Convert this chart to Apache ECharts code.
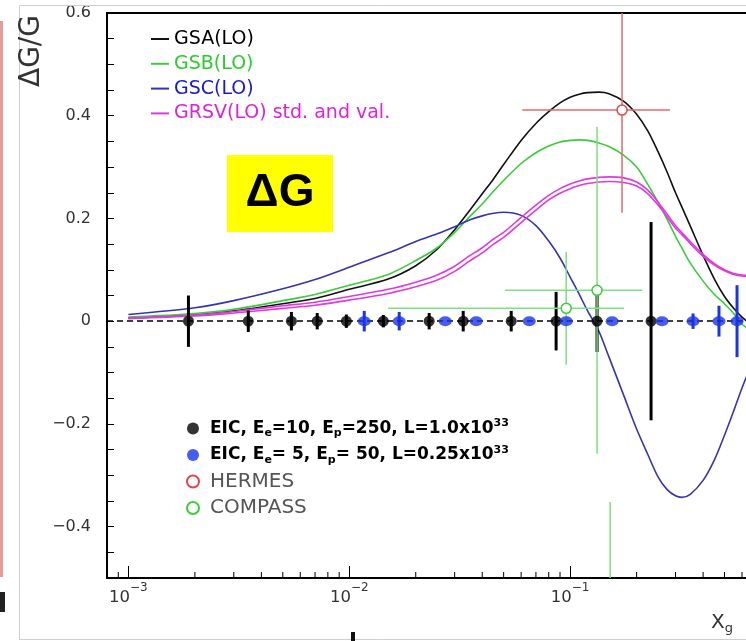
<!DOCTYPE html>
<html><head><meta charset="utf-8">
<script src="https://cdn.jsdelivr.net/npm/echarts@6/dist/echarts.min.js"></script>
<style>html,body{margin:0;padding:0;background:#fff}#c{width:746px;height:641px}</style>
</head><body><div id="c"></div>
<script>
// ---------- data ----------
const curveX  = [0.001,0.002,0.003,0.005,0.007,0.01,0.015,0.02,0.025,0.03,0.035,0.04,0.045,0.05,0.06,0.07,0.08,0.09,0.1,0.11,0.12,0.135,0.15,0.175,0.2,0.225,0.25,0.275,0.3,0.32,0.35,0.4,0.45,0.5,0.55,0.6,0.7,0.8];
const gsa     = [0.006,0.012,0.02,0.034,0.044,0.062,0.082,0.108,0.14,0.178,0.215,0.248,0.277,0.305,0.352,0.385,0.408,0.425,0.436,0.442,0.445,0.446,0.443,0.428,0.403,0.37,0.33,0.29,0.25,0.223,0.185,0.128,0.082,0.048,0.025,0.008,-0.015,-0.03];
const gsb     = [0.008,0.015,0.023,0.04,0.052,0.07,0.091,0.118,0.143,0.173,0.203,0.228,0.253,0.274,0.307,0.328,0.341,0.349,0.352,0.353,0.352,0.347,0.34,0.323,0.3,0.266,0.232,0.198,0.165,0.143,0.113,0.078,0.052,0.034,0.015,-0.006,-0.025,-0.04];
const gsc     = [0.013,0.026,0.04,0.063,0.081,0.105,0.133,0.155,0.17,0.184,0.197,0.205,0.21,0.212,0.206,0.186,0.156,0.123,0.086,0.052,0.02,-0.02,-0.07,-0.145,-0.21,-0.26,-0.303,-0.328,-0.34,-0.343,-0.337,-0.31,-0.27,-0.222,-0.175,-0.13,-0.06,-0.01];
const grsvStd = [0.006,0.012,0.019,0.03,0.037,0.048,0.062,0.076,0.09,0.107,0.127,0.143,0.16,0.173,0.202,0.226,0.245,0.258,0.267,0.273,0.277,0.28,0.281,0.279,0.271,0.255,0.232,0.208,0.186,0.173,0.155,0.13,0.112,0.1,0.093,0.09,0.087,0.085];
const grsvVal = [0.005,0.01,0.016,0.025,0.031,0.041,0.054,0.067,0.08,0.097,0.117,0.133,0.15,0.163,0.192,0.216,0.236,0.249,0.258,0.264,0.268,0.271,0.272,0.27,0.263,0.248,0.226,0.203,0.181,0.169,0.151,0.126,0.109,0.098,0.091,0.088,0.085,0.083];

const eic1X   = [0.00187,0.00349,0.00547,0.00716,0.0097,0.01426,0.0230,0.0328,0.0541,0.0864,0.1324,0.2325];
const eic1Y   = [0,0,0,0,0,0,0,0,0,0,0,0];
const eic1Err = [0.05,0.021,0.018,0.016,0.013,0.012,0.016,0.02,0.02,0.057,0.06,0.193];

const eic2X   = [0.01169,0.01683,0.0272,0.03756,0.0653,0.0960,0.1549,0.2606,0.3602,0.472,0.5697];
const eic2Y   = [0,0,0,0,0,0,0,0,0,0,0];
const eic2Err = [0.02,0.018,0,0,0,0,0,0,0.015,0.03,0.07];

const hermesX = [0.1718], hermesY = [0.411], hermesXLo = [0.0607], hermesXHi = [0.2835], hermesErr = [0.2];
const compassX   = [0.096, 0.1324, 0.1518];
const compassY   = [0.025, 0.06, -0.8];
const compassXLo = [0.015, 0.0508, 0.1518];
const compassXHi = [0.1754, 0.212, 0.1518];
const compassErr = [0.11, 0.318, 0.448];

const yTickLabels = [-0.4,-0.2,0,0.2,0.4,0.6];
const xMin = 0.0008, xMax = 1, yMin = -0.5, yMax = 0.6;

const NAME_A = 'GSA(LO)', NAME_B = 'GSB(LO)', NAME_C = 'GSC(LO)', NAME_R = 'GRSV(LO) std. and val.';
const NAME_E1 = 'EIC, E_e=10, E_p=250, L=1.0x10^33';
const NAME_E2 = 'EIC, E_e= 5, E_p= 50, L=0.25x10^33';
const NAME_H = 'HERMES', NAME_CO = 'COMPASS';

// ---------- helpers ----------
const minorTicks = [];
[0.0001,0.001,0.01,0.1].forEach(d => { for (let m=2;m<=9;m++){ const v=d*m; if (v>xMin && v<xMax) minorTicks.push(v);} });

function curve(name, ys, color){
  return {type:'line', name, data: curveX.map((x,i)=>[x, ys[i]]), smooth:0.3, symbol:'none',
    lineStyle:{color, width:1.6}, itemStyle:{color}, clip:true, z:2, silent:true};
}
function vbars(xs, ys, errs, color, w){
  return {type:'custom', name:'_bars'+color, silent:true, clip:true, z:3,
    data: xs.map((x,i)=>[x, ys[i], errs[i]]),
    renderItem:(p, api)=>{
      const x=api.value(0), y=api.value(1), e=api.value(2);
      if (!e) return null;
      const t=api.coord([x,y+e]), b=api.coord([x,y-e]);
      return {type:'line', shape:{x1:t[0],y1:t[1],x2:b[0],y2:b[1]}, style:{stroke:color, lineWidth:w}};
    }};
}
function cross(name, xs, ys, xl, xh, errs, lineColor, markColor){
  return {type:'custom', name, clip:true, z:4, silent:true, itemStyle:{color:markColor},
    data: xs.map((x,i)=>[x, ys[i], xl[i], xh[i], errs[i]]),
    renderItem:(p, api)=>{
      const x=api.value(0), y=api.value(1), e=api.value(4);
      const c=api.coord([x,y]), l=api.coord([api.value(2),y]), r=api.coord([api.value(3),y]);
      const t=api.coord([x,y+e]), b=api.coord([x,y-e]);
      return {type:'group', children:[
        {type:'line', shape:{x1:l[0],y1:l[1],x2:r[0],y2:r[1]}, style:{stroke:lineColor, lineWidth:1.5}},
        {type:'line', shape:{x1:t[0],y1:t[1],x2:b[0],y2:b[1]}, style:{stroke:lineColor, lineWidth:1.5}},
        {type:'circle', shape:{cx:c[0],cy:c[1],r:5}, style:{fill:'#fff', stroke:markColor, lineWidth:1.5}}
      ]};
    }};
}
const richFmt = n => n.replace(/_(\w)/g,'{sub|$1}').replace(/\^(\d+)/g,'{sup|$1}');
const FONT = 'DejaVu Sans';

const chart = echarts.init(document.getElementById('c'), null, {renderer:'canvas'});
chart.setOption({
  animation:false,
  backgroundColor:'#fff',
  grid:{left:107, top:13, width:684, height:565, show:true, borderColor:'#000', borderWidth:2, outerBoundsMode:'none'},
  xAxis:{type:'log', logBase:10, min:xMin, max:xMax,
    axisLine:{show:true, onZero:false, lineStyle:{color:'#000', width:2}},
    axisTick:{show:true, inside:true, length:12, lineStyle:{color:'#000', width:1}},
    splitLine:{show:false},
    axisLabel:{margin:4, color:'#333', fontFamily:FONT,
      formatter: v => { const l=Math.log10(v), e=Math.round(l); if (Math.abs(l-e)>1e-6 || e>=0) return ''; return '{b|10}{s|\u2212'+(-e)+'}'; },
      rich:{ b:{fontSize:16.5, lineHeight:32, fontFamily:FONT, color:'#333'}, s:{fontSize:12, lineHeight:12, verticalAlign:'top', fontFamily:FONT, color:'#333'} } }
  },
  yAxis:{type:'value', min:yMin, max:yMax, interval:0.05,
    axisLine:{show:true, onZero:false, lineStyle:{color:'#000', width:2}},
    axisTick:{show:true, inside:true, length:7, lineStyle:{color:'#000', width:1}},
    splitLine:{show:false},
    axisLabel:{margin:16, color:'#333', fontFamily:FONT, fontSize:16,
      formatter: v => { const hit = yTickLabels.find(t=>Math.abs(t-v)<1e-6); if (hit===undefined) return ''; if (hit===0) return '0'; return (hit<0?'\u2212':'')+Math.abs(hit).toFixed(1); } }
  },
  legend:[
    {orient:'vertical', left:146, top:24, itemWidth:18, itemHeight:2, itemGap:4.8, selectedMode:false, icon:'rect',
      textStyle:{fontFamily:FONT, fontSize:19, lineHeight:20},
      data:[{name:NAME_A, icon:'rect', textStyle:{color:'#000'}},{name:NAME_B, icon:'rect', textStyle:{color:'#2ccc2c'}},
            {name:NAME_C, icon:'rect', textStyle:{color:'#1a1acc'}},{name:NAME_R, icon:'rect', textStyle:{color:'#dd22dd'}}]},
    {orient:'vertical', left:181, top:413, itemWidth:24, itemHeight:12, itemGap:5.5, selectedMode:false,
      formatter: richFmt,
      textStyle:{fontFamily:FONT, fontSize:19, lineHeight:21,
        rich:{sub:{fontSize:11, lineHeight:11, verticalAlign:'bottom', fontFamily:FONT}, sup:{fontSize:11, lineHeight:11, verticalAlign:'top', fontFamily:FONT}}},
      data:[{name:NAME_E1, icon:'circle', textStyle:{color:'#000', fontWeight:'bold', fontSize:17}},
            {name:NAME_E2, icon:'circle', textStyle:{color:'#000', fontWeight:'bold', fontSize:17}},
            {name:NAME_H, icon:'emptyCircle', textStyle:{color:'#555', fontSize:20}},
            {name:NAME_CO, icon:'emptyCircle', textStyle:{color:'#555', fontSize:20}}]}
  ],
  graphic:[
    {type:'rect', z:100, shape:{x:19.5, y:5.5, width:800, height:634}, style:{fill:'none', stroke:'#cfcfcf', lineWidth:1}},
    {type:'rect', z:100, shape:{x:0, y:21, width:3, height:556}, style:{fill:'#e79c9c'}},
    {type:'rect', z:100, shape:{x:0, y:592, width:5, height:20}, style:{fill:'#222'}},
    {type:'rect', z:100, shape:{x:351, y:632, width:4, height:9}, style:{fill:'#111'}},
    {type:'rect', z:100, shape:{x:227, y:155, width:106, height:77}, style:{fill:'#ffff00'}},
    {type:'text', z:101, x:280, y:193, style:{text:'\u0394G', font:'bold 46px "Liberation Sans", Arial, sans-serif', fill:'#000', align:'center', verticalAlign:'middle'}},
    {type:'text', z:101, x:32, y:51, rotation:Math.PI/2, style:{text:'\u0394G/G', font:'28px "DejaVu Sans"', fill:'#333', align:'center', verticalAlign:'middle'}},
    {type:'text', z:101, x:711, y:611, style:{text:'{a|X}{g|g}', rich:{a:{fontSize:20, fontFamily:FONT, fill:'#333', lineHeight:24}, g:{fontSize:13, fontFamily:FONT, fill:'#333', lineHeight:13, verticalAlign:'bottom'}}}}
  ],
  series:[
    curve(NAME_A, gsa, '#111111'),
    curve(NAME_B, gsb, '#3acc3a'),
    curve(NAME_C, gsc, '#3434b4'),
    curve(NAME_R, grsvStd, '#de3ade'),
    curve(NAME_R, grsvVal, '#de3ade'),
    {type:'custom', name:'_minor', silent:true, clip:false, z:6, data:minorTicks.map(v=>[v]),
      renderItem:(p, api)=>{ const q=api.coord([api.value(0), yMin]); return {type:'line', shape:{x1:q[0],y1:q[1],x2:q[0],y2:q[1]-6}, style:{stroke:'#000', lineWidth:1}}; }},
    vbars(eic1X, eic1Y, eic1Err, '#000', 3),
    vbars(eic2X, eic2Y, eic2Err, '#1a35e8', 3),
    cross(NAME_H, hermesX, hermesY, hermesXLo, hermesXHi, hermesErr, '#e26a6a', '#e04848'),
    cross(NAME_CO, compassX, compassY, compassXLo, compassXHi, compassErr, '#7ee07e', '#3ccc3c'),
    {type:'scatter', name:NAME_E1, data:eic1X.map((x,i)=>[x, eic1Y[i]]), symbol:'circle', symbolSize:11, itemStyle:{color:'#000'}, z:5, silent:true,
      markLine:{silent:true, symbol:['none','none'], label:{show:false}, lineStyle:{color:'#000', type:[6,4], width:1.6}, data:[{yAxis:0}]}},
    {type:'scatter', name:NAME_E2, data:eic2X.map((x,i)=>[x, eic2Y[i]]), symbol:'circle', symbolSize:[13,10], itemStyle:{color:'#1a35e8'}, z:5, silent:true}
  ]
});
</script></body></html>
